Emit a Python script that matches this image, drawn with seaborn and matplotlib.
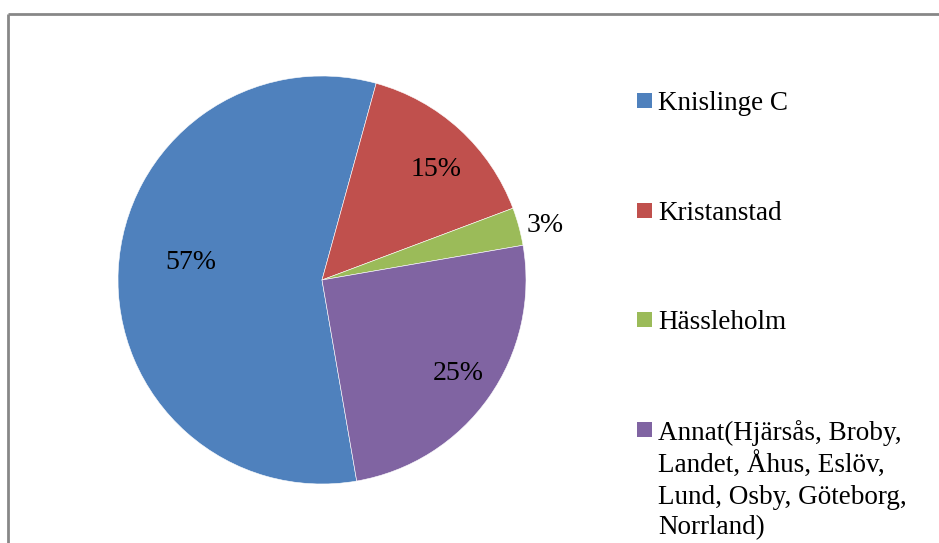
import numpy as np
import matplotlib
matplotlib.use("Agg")
import matplotlib.pyplot as plt
from matplotlib.patches import Rectangle
import seaborn as sns

# data
categories = [
    "Knislinge C",
    "Kristanstad",
    "Hässleholm",
    "Annat(Hjärsås, Broby,\nLandet, Åhus, Eslöv,\nLund, Osby, Göteborg,\nNorrland)",
]
shares = [57, 15, 3, 25]
colors = ["#4F81BD", "#C0504D", "#9BBB59", "#8064A2"]
# where each % label sits: radius (fraction of pie) and angle nudge (deg)
label_dist = [0.65, 0.78, 1.125, 0.81]
label_nudge = [-5.0, -3.4, -1.5, 0.6]

sns.set_theme(style="white")
plt.rcParams["font.family"] = ["Liberation Serif", "DejaVu Serif"]

W, H = 939, 543
fig = plt.figure(figsize=(W / 100, H / 100), dpi=100)

# pie: centre (322, 280) px, radius 204 px
R = 204
cx, cy = 322, 280
ax = fig.add_axes([(cx - 1.25 * R) / W, (H - cy - 1.25 * R) / H, 2.5 * R / W, 2.5 * R / H])
wedges, _, pcts = ax.pie(
    shares,
    colors=sns.color_palette(colors),
    startangle=-80.2,
    counterclock=False,
    autopct="%.0f%%",
    wedgeprops=dict(edgecolor="white", linewidth=0.4),
    textprops=dict(fontsize=20, color="black"),
)
for w, t, d, n in zip(wedges, pcts, label_dist, label_nudge):
    mid = np.deg2rad((w.theta1 + w.theta2) / 2 + n)
    t.set_position((d * np.cos(mid), d * np.sin(mid)))
ax.set_xlim(-1.25, 1.25)
ax.set_ylim(-1.25, 1.25)
ax.set_aspect("equal")
ax.axis("off")

# overlay in pixel coordinates for frame and legend
ov = fig.add_axes([0, 0, 1, 1], facecolor="none")
ov.set_xlim(0, W)
ov.set_ylim(H, 0)
ov.axis("off")
ov.plot([7.5, W], [13.5, 13.5], color="#878787", lw=2, solid_capstyle="butt")
ov.plot([7.5, 7.5], [13.5, H], color="#878787", lw=2, solid_capstyle="butt")

for i, (name, c) in enumerate(zip(categories, colors)):
    yc = 100.5 + 109.7 * i
    ov.add_patch(Rectangle((637, yc - 7.5), 15, 15, facecolor=c, edgecolor="none"))
    ov.text(658, yc - 9.5, name, fontsize=19.5, va="top", ha="left",
            linespacing=1.29, color="black")

fig.savefig("out.png", dpi=100)
